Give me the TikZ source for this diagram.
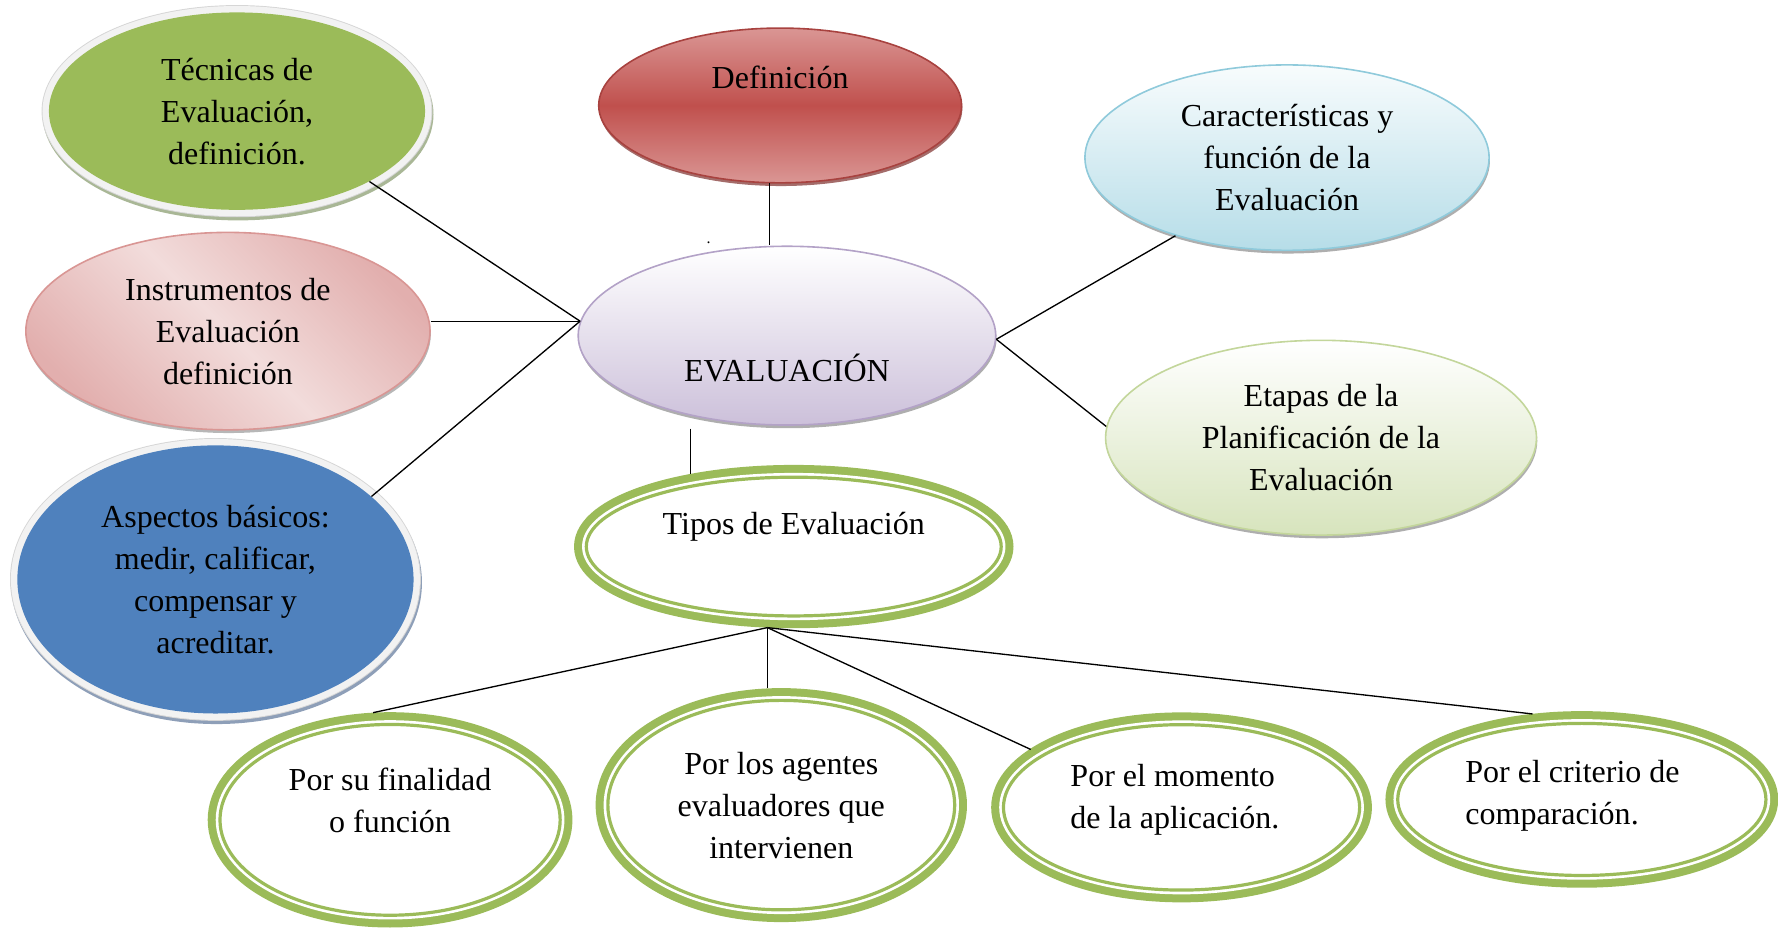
\documentclass[tikz,border=0pt]{standalone}
\usepackage{fontspec}
\setmainfont{Liberation Serif}
\usetikzlibrary{shapes.geometric, shadows}
\definecolor{tecgreen}{HTML}{9BBB59}
\definecolor{tecshadow}{HTML}{A9B796}
\definecolor{deflight}{HTML}{DA9694}
\definecolor{defred}{HTML}{C0504D}
\definecolor{defborder}{HTML}{A8423F}
\definecolor{defshadow}{HTML}{7D2D2B}
\definecolor{carlight}{HTML}{F8FCFD}
\definecolor{cardark}{HTML}{B6DDE8}
\definecolor{carborder}{HTML}{8FCADB}
\definecolor{instlight}{HTML}{F2DCDB}
\definecolor{instdark}{HTML}{E2AFAE}
\definecolor{instborder}{HTML}{D99694}
\definecolor{evaldark}{HTML}{CCC0DA}
\definecolor{evalborder}{HTML}{B3A2C7}
\definecolor{etadark}{HTML}{D7E4BD}
\definecolor{etaborder}{HTML}{C3D69B}
\definecolor{aspblue}{HTML}{4F81BD}
\definecolor{aspshadow}{HTML}{8E9FB8}
\definecolor{ringgreen}{HTML}{9BBB59}
\tikzset{
  bubble/.style={ellipse, inner sep=0pt, align=center},
  halo/.style={preaction={draw=#1, line width=11pt, transform canvas={xshift=0.8pt, yshift=-2.4pt}},
    preaction={draw=black!16, line width=11pt}, preaction={draw=black!5, line width=9.6pt}},
  glossy/.style 2 args={draw=#1, line width=1.2pt,
    drop shadow={shadow xshift=0.6pt, shadow yshift=-2.4pt, fill=#2, opacity=.7}},
  ring/.style={bubble, outer sep=9.2pt, fill=white, draw=ringgreen, line width=2.4pt,
    preaction={draw=ringgreen, line width=18.4pt}, preaction={draw=white, line width=6.4pt}},
  link/.style={line width=1pt},
}
\begin{document}
\begin{tikzpicture}[x=0.85pt, y=-0.85pt, font=\fontsize{24}{31.5}\selectfont]
  \useasboundingbox (0,0) rectangle (1568,818);
  % ellipses round the centre
  \node[bubble, halo=tecshadow, fill=tecgreen, minimum width=282pt, minimum height=148pt] (tec) at (209,98)
    {Técnicas de\\Evaluación,\\definición.};
  \node[bubble, glossy={defborder}{defshadow}, top color=deflight, bottom color=deflight, middle color=defred,
    minimum width=272pt, minimum height=116pt, label={[yshift=21pt]center:Definición}] (def) at (688,93) {};
  \node[bubble, glossy={carborder}{black!45}, top color=carlight, bottom color=cardark,
    minimum width=303pt, minimum height=139pt] (car) at (1135,139)
    {Características y\\función de la\\Evaluación};
  \node[bubble, glossy={instborder}{black!40}, top color=instdark, bottom color=instdark, middle color=instlight,
    shading angle=-45, minimum width=303pt, minimum height=148pt] (inst) at (201,292)
    {Instrumentos de\\Evaluación\\definición};
  \node[bubble, glossy={evalborder}{black!45}, top color=white, bottom color=evaldark,
    minimum width=313pt, minimum height=134pt, label={[yshift=-24pt]center:EVALUACIÓN}] (eval) at (694,296) {};
  \node[bubble, glossy={etaborder}{black!45}, top color=white, bottom color=etadark,
    minimum width=323pt, minimum height=146pt] (eta) at (1165,386)
    {Etapas de la\\Planificación de la\\Evaluación};
  \node[bubble, halo=aspshadow, fill=aspblue, minimum width=297pt, minimum height=201pt] (asp) at (190,511)
    {Aspectos básicos:\\medir, calificar,\\compensar y\\acreditar.};
  \node[inner sep=0pt, font=\fontsize{12}{14}\selectfont] (mark) at (625,214) {.};
  % types
  \node[ring, minimum width=311pt, minimum height=104pt,
    label={[yshift=15pt]center:Tipos de Evaluación}] (tipos) at (700,482) {};
  \node[ring, minimum width=255pt, minimum height=143pt,
    label={[align=center, yshift=14.5pt]center:{Por su finalidad\\o función}}] (fin) at (344,723) {};
  \node[ring, minimum width=260pt, minimum height=157pt] (age) at (689,710)
    {Por los agentes\\evaluadores que\\intervienen};
  \node[ring, minimum width=267pt, minimum height=124pt,
    label={[align=left, xshift=-5pt, yshift=6pt]center:{Por el momento\\de la aplicación.}}] (mom) at (1042,712) {};
  \node[ring, minimum width=276pt, minimum height=114pt,
    label={[align=left, xshift=-7pt, yshift=3pt]center:{Por el criterio de\\comparación.}}] (cri) at (1395,705) {};
  % connectors
  \draw[link] (tec.-28) -- (eval.176);
  \draw[link] (inst.east |- eval.176) -- (eval.176);
  \draw[link] (asp.28) -- (eval.176);
  \draw[link] (def.262) -- (def.262 |- eval.north);
  \draw[link] (eval.-1) -- (car.215);
  \draw[link] (eval.-1) -- (eta.177);
  \coordinate (gap) at ([yshift=-2pt]eval.south);
  \draw[link] (tipos.145 |- gap) -- (tipos.145);
  \draw[link] (tipos.252) -- (fin.99);
  \draw[link] (tipos.252) -- (tipos.252 |- age.north);
  \draw[link] (tipos.252) -- (mom.159);
  \draw[link] (tipos.252) -- (cri.120);
\end{tikzpicture}
\end{document}
